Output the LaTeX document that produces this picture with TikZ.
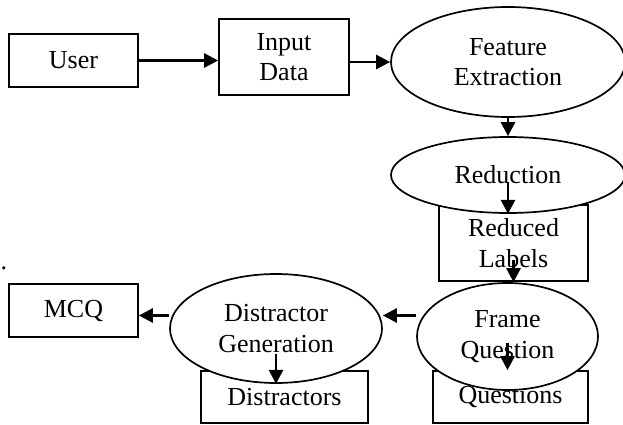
\documentclass[tikz,border=0pt]{standalone}
\usepackage{fontspec}
\setmainfont{Liberation Serif}
\usetikzlibrary{arrows.meta,shapes.geometric}
\begin{document}
\begin{tikzpicture}[x=1pt,y=-1pt,
  every node/.style={font=\fontsize{26}{30.5}\selectfont, align=center, inner sep=0pt},
  boxnode/.style={draw, line width=1.7pt, fill=white, rectangle},
  ellnode/.style={draw, line width=1.7pt, fill=white, ellipse},
  arr/.style={line width=2.6pt, -{Triangle[length=14pt,width=14pt]}}]
\useasboundingbox (0,0) rectangle (623,425);
% boxes
\node[boxnode, minimum width=129pt, minimum height=53pt] (user) at (73.5,60.5) {User};
\node[boxnode, minimum width=130pt, minimum height=76pt] (input) at (284,57) {Input\\Data};
\node[boxnode, minimum width=149pt, minimum height=76pt] (labels) at (513.5,243) {Reduced\\Labels};
\node[boxnode, minimum width=155pt, minimum height=52pt] (q) at (510.5,397) {Questions};
\node[boxnode, minimum width=167pt, minimum height=52pt] (dist) at (284.5,397) {Distractors};
\node[boxnode, minimum width=129pt, minimum height=53pt] (mcq) at (73.5,310.5) {MCQ};
% ellipses
\node[ellnode, minimum width=234pt, minimum height=110pt] (fe) at (508,62) {Feature\\Extraction};
\node[ellnode, minimum width=234pt, minimum height=76pt] (red) at (508,175) {Reduction};
\node[ellnode, minimum width=181pt, minimum height=107pt] (fq) at (507.5,336.5) {Frame\\Question};
\node[ellnode, minimum width=212pt, minimum height=109pt] (dg) at (276,328.5) {Distractor\\Generation};
% stray dot
\node (dot) at (4,268) {.};
% connectors
\draw[arr] (user.east) -- (user.east -| input.west);
\draw[arr] (fe.west -| input.east) -- (fe.west);
\draw[arr] (fe.south) -- (red.north);
\draw[arr] ([yshift=-7pt]red.center) -- (red.south);
\draw[arr] ([yshift=-17pt]labels.center) -- (labels.center |- fq.north);
\draw[arr] ([yshift=-6pt]fq.center) -- (fq.center |- q.north);
\draw[arr] ([yshift=21pt]fq.west) -- ([yshift=21pt]fq.west -| dg.east);
\draw[arr] ([yshift=13pt]dg.west) -- ([yshift=13pt]dg.west -| mcq.east);
\draw[arr] ([yshift=-25pt]dg.center) -- (dg.south);
\end{tikzpicture}
\end{document}
